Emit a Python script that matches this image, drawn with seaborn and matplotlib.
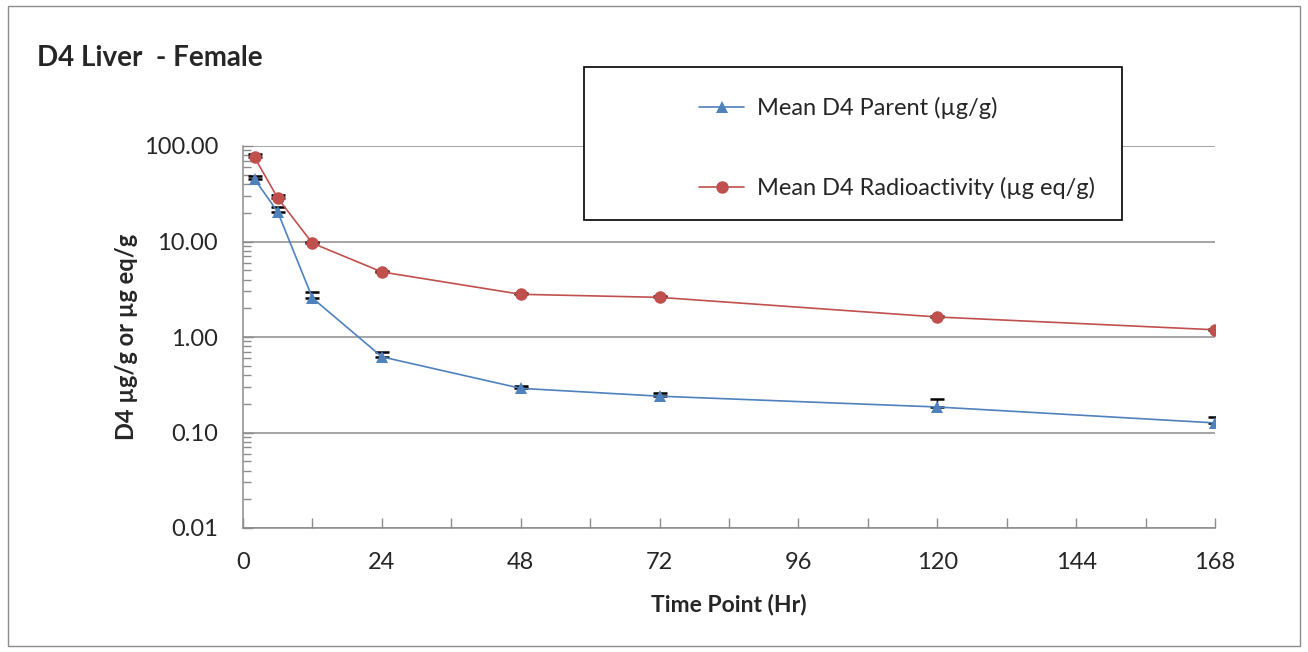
import numpy as np
import pandas as pd
import matplotlib
matplotlib.use("Agg")
import matplotlib.pyplot as plt
from matplotlib.patches import Rectangle
from matplotlib.lines import Line2D
from matplotlib.ticker import FixedLocator, LogLocator, NullFormatter, FuncFormatter
import seaborn as sns

# ---- data ----
time_hr = [2, 6, 12, 24, 48, 72, 120, 168]
parent_mean = [45.0, 20.4, 2.56, 0.62, 0.29, 0.24, 0.185, 0.126]
parent_err = [4.0, 2.4, 0.40, 0.08, 0.02, 0.017, 0.04, 0.018]
radio_mean = [76.0, 28.5, 9.6, 4.8, 2.8, 2.6, 1.62, 1.19]
radio_err = [6.0, 2.5, 0.3, 0.1, 0.08, 0.08, 0.05, 0.03]
series_names = ["Mean D4 Parent (µg/g)", "Mean D4 Radioactivity (µg eq/g)"]
x_ticks = [0, 24, 48, 72, 96, 120, 144, 168]
y_ticks = [0.01, 0.1, 1, 10, 100]

BLUE = "#4F81BD"
RED = "#C0504D"
FONT = ["Lato", "DejaVu Sans"]

sns.set_theme(style="white")
plt.rcParams["font.family"] = FONT

df = pd.DataFrame({
    "time": time_hr * 2,
    "value": parent_mean + radio_mean,
    "series": [series_names[0]] * len(time_hr) + [series_names[1]] * len(time_hr),
})

fig = plt.figure(figsize=(13.08, 6.52), dpi=100)
ax = fig.add_axes([243 / 1308, 1 - 528 / 652, (1215 - 243) / 1308, (528 - 146) / 652])

# error bars (upper only) drawn beneath the markers
zeros = [0] * len(time_hr)
ax.errorbar(time_hr, parent_mean, yerr=[zeros, parent_err], fmt="none", ecolor="black",
            elinewidth=1.0, capsize=5, capthick=1.8, zorder=2)
ax.errorbar(time_hr, radio_mean, yerr=[zeros, radio_err], fmt="none", ecolor="black",
            elinewidth=1.0, capsize=5, capthick=1.8, zorder=2)

sns.lineplot(data=df, x="time", y="value", hue="series", style="series",
             palette={series_names[0]: BLUE, series_names[1]: RED},
             markers={series_names[0]: "^", series_names[1]: "o"},
             dashes=False, markersize=9, markeredgewidth=0, linewidth=1.2,
             legend=False, ax=ax, zorder=3)

ax.set_yscale("log")
ax.set_ylim(0.01, 100)
ax.set_xlim(0, 168)
ax.yaxis.set_major_locator(FixedLocator(y_ticks))
ax.yaxis.set_major_formatter(FuncFormatter(lambda v, p: f"{v:.2f}"))
ax.yaxis.set_minor_locator(LogLocator(base=10, subs=np.arange(2, 10)))
ax.yaxis.set_minor_formatter(NullFormatter())
ax.xaxis.set_major_locator(FixedLocator(x_ticks))
ax.xaxis.set_minor_locator(FixedLocator(np.arange(12, 168, 24)))

ax.grid(axis="y", which="major", color="#8C8C8C", linewidth=1.1)
ax.set_axisbelow(True)
for s in ["top", "right"]:
    ax.spines[s].set_visible(False)
for s in ["left", "bottom"]:
    ax.spines[s].set_color("#8C8C8C")
    ax.spines[s].set_linewidth(1.1)

ax.tick_params(axis="both", which="both", direction="in", color="#8C8C8C",
               labelsize=17, labelcolor="#262626", width=1, left=True, bottom=True)
ax.tick_params(axis="both", which="major", length=7)
ax.tick_params(axis="y", which="minor", length=6)
ax.tick_params(axis="x", which="minor", length=7)
ax.tick_params(axis="y", which="major", pad=18)
ax.tick_params(axis="x", which="major", pad=17)

ax.set_xlabel("Time Point (Hr)", fontsize=16.5, fontweight="bold", labelpad=15)
ax.set_ylabel("D4 µg/g or µg eq/g", fontsize=17, fontweight="bold", labelpad=4)

fig.text(37 / 1308, 1 - 58 / 652, "D4 Liver  - Female", fontsize=20,
         fontweight="bold", va="center", ha="left")

# legend box
fig.patches.append(Rectangle((584 / 1308, 1 - 220 / 652), (1122 - 584) / 1308,
                             (220 - 67) / 652, transform=fig.transFigure,
                             facecolor="white", edgecolor="black", linewidth=1.2,
                             zorder=5))
handles = [
    Line2D([0], [0], color=BLUE, marker="^", markersize=9, markeredgewidth=0, linewidth=1.2),
    Line2D([0], [0], color=RED, marker="o", markersize=9, markeredgewidth=0, linewidth=1.2),
]
leg = fig.legend(handles, series_names, loc="center left",
                 bbox_to_anchor=(678 / 1308, 1 - 148 / 652), frameon=False,
                 fontsize=17, handlelength=1.9, handletextpad=0.55,
                 labelspacing=2.45)
leg.set_zorder(6)

# outer border
fig.patches.append(Rectangle((8 / 1308, 6 / 652), 1292 / 1308, 640 / 652,
                             transform=fig.transFigure, facecolor="none",
                             edgecolor="#8C8C8C", linewidth=1.0))

fig.savefig("out.png", dpi=100)
